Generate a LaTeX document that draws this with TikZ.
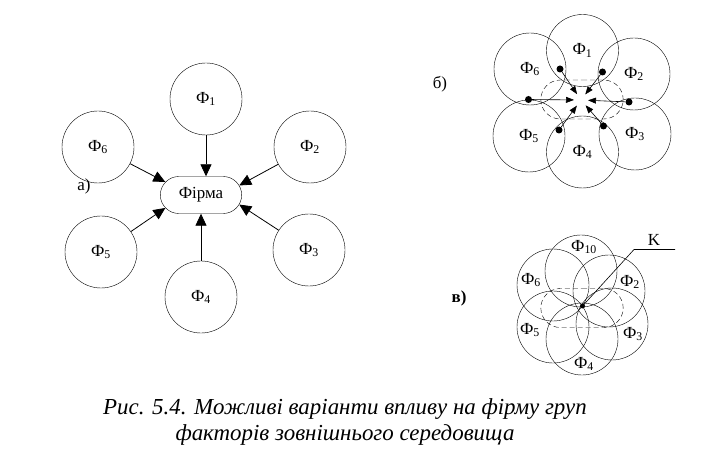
\documentclass[tikz,border=0pt]{standalone}
\usepackage{fontspec}
\setmainfont{Liberation Serif}
\usetikzlibrary{arrows.meta}
\usetikzlibrary{shapes.misc}
\tikzset{factor/.style={draw, circle, thin, minimum size=72bp, inner sep=0pt, font=\fontsize{17}{19}\selectfont},
 firm/.style={draw, thin, rounded rectangle, minimum width=88bp, minimum height=37bp, font=\fontsize{17}{19}\selectfont},
 zone/.style={draw, thin, dash pattern=on 5bp off 3bp, rounded rectangle, minimum width=89bp, minimum height=39bp},
 blob/.style={circle, fill=black, inner sep=0pt, minimum size=7bp},
 tag/.style={font=\fontsize{17}{19}\selectfont},
 bigarrow/.style={thick, -{Triangle[length=12bp,width=11bp]}},
 smallarrow/.style={semithick, -{Triangle[length=8bp,width=6bp]}, shorten >=7bp},
 }
\newcommand{\fac}[1]{Ф\textsubscript{#1}}

\begin{document}
\begin{tikzpicture}[x=1bp, y=-1bp]
        \useasboundingbox (0, 0) rectangle (717, 463);
        % a)
        \node[tag] (la) at (84, 186) {а)};
        \node[firm] (firm) at (201, 195) {Фірма};
        \node[factor] (f1) at (206, 99) {\fac{1}};
        \node[factor] (f2) at (310, 147) {\fac{2}};
        \node[factor] (f3) at (309, 250) {\fac{3}};
        \node[factor] (f4) at (201, 297) {\fac{4}};
        \node[factor] (f5) at (101, 252) {\fac{5}};
        \node[factor] (f6) at (98, 147) {\fac{6}};
        \draw[bigarrow] (f1.south) -- (f1.south |- firm.north);
        \draw[bigarrow] (f4.north) -- (f4.north |- firm.south);
        \draw[bigarrow] (f6) -- (firm.160);
        \draw[bigarrow] (f5) -- (firm.200);
        \draw[bigarrow] (f2) -- (firm.14);
        \draw[bigarrow] (f3) -- (firm.-14);
        
        % b)
        \node[tag] (lb) at (440, 84) {б)};
        \node[factor] (g1) at (582.5, 50.5) {\fac{1}};
        \node[factor] (g2) at (634, 74) {\fac{2}};
        \node[factor] (g3) at (635, 134) {\fac{3}};
        \node[factor] (g4) at (582.5, 152) {\fac{4}};
        \node[factor] (g5) at (529, 136) {\fac{5}};
        \node[factor] (g6) at (530, 69) {\fac{6}};
        \node[zone] (gz) at (582, 99.5) {};
        \coordinate (gc) at (581, 100);
        \node[blob] (d1) at (560, 69) {};
        \node[blob] (d2) at (602.5, 72) {};
        \node[blob] (d3) at (629, 102) {};
        \node[blob] (d4) at (603.5, 126) {};
        \node[blob] (d5) at (559, 130) {};
        \node[blob] (d6) at (528.5, 99.5) {};
        \foreach \d in {d1, d2, d3, d4, d5, d6}
            \draw[smallarrow] (\d) -- (gc);
        
        % c)
        \node[tag, font=\fontsize{17}{19}\selectfont\bfseries] (lc) at (459, 298) {в)};
        \node[factor] (h10) at (581, 271) {};
        \node[factor] (h2) at (609, 291) {};
        \node[factor] (h3) at (612, 324) {};
        \node[factor] (h4) at (582, 339) {};
        \node[factor] (h5) at (553, 327) {};
        \node[factor] (h6) at (553, 285) {};
        \node[zone] (hz) at (582, 308) {};
        \node[tag] (t10) at (584, 247) {\fac{10}};
        \node[tag] (t2) at (630, 282) {\fac{2}};
        \node[tag] (t3) at (633, 334) {\fac{3}};
        \node[tag] (t4) at (584, 364) {\fac{4}};
        \node[tag] (t5) at (530, 330) {\fac{5}};
        \node[tag] (t6) at (531, 280) {\fac{6}};
        \node[blob, minimum size=5bp] (k) at (582.5, 306) {};
        \coordinate (kbend) at (634, 249.5);
        \coordinate (kend) at (675, 249.5);
        \draw[semithick] (k.center) -- (kbend) -- (kend);
        \node[tag, anchor=south] (kl) at (654, 249) {K};
        
        % caption
        \node[font=\fontsize{23}{27}\selectfont\itshape, align=center] (cap) at (345, 422)
            {Рис. 5.4. Можливі варіанти впливу на фірму груп\\факторів зовнішнього середовища};
    \end{tikzpicture}
\end{document}
